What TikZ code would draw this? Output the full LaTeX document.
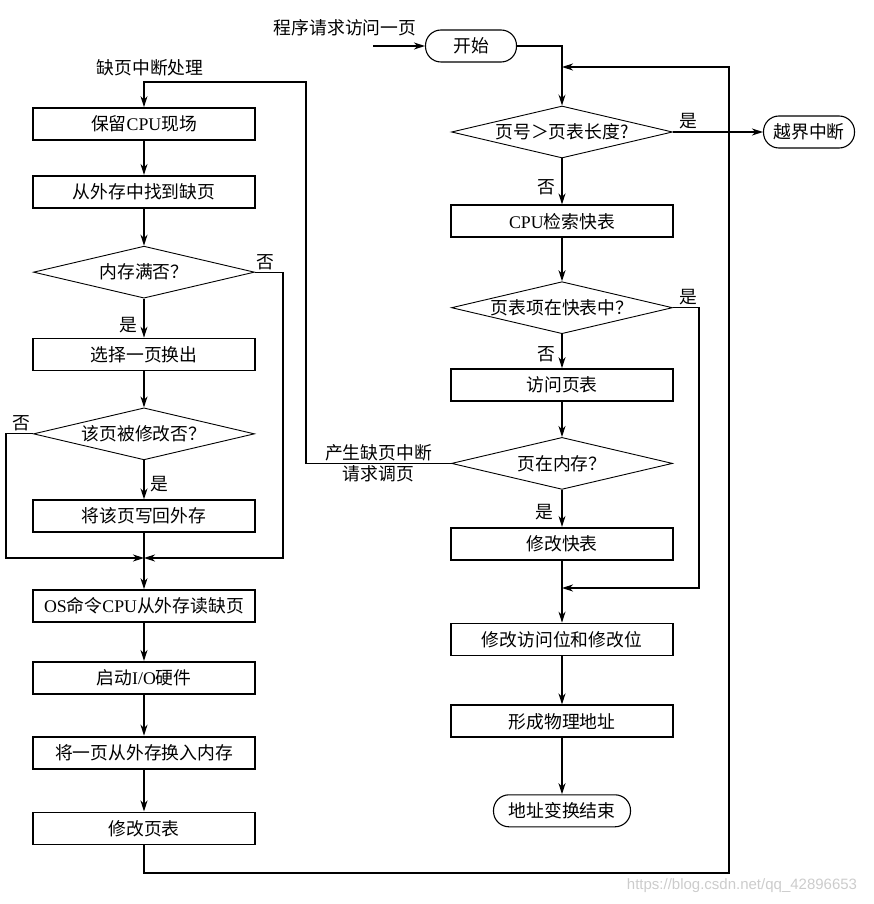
\documentclass[tikz,border=0pt]{standalone}
\usepackage{fontspec}
\setmainfont{Liberation Serif}
\newfontfamily\cjk{Noto Sans CJK SC}
\newfontfamily\wmfont{Liberation Sans}
\usetikzlibrary{positioning,shapes.geometric,arrows.meta}
\newcommand{\latn}[1]{{\rmfamily #1}}

\begin{document}
\begin{tikzpicture}[x=1pt, y=-1pt, font=\cjk\fontsize{17.8}{20}\selectfont,
    box/.style = {rectangle, draw, line width=1.8pt, minimum width=222pt, minimum height=32pt, inner sep=0pt},
    cond/.style = {diamond, draw, line width=0.9pt, minimum width=221pt, minimum height=52pt, inner sep=0pt, aspect=4.25},
    term/.style = {rectangle, draw, rounded corners=15.5pt, line width=1.1pt, minimum height=32pt, inner sep=0pt},
    arr/.style = {line width=1.2pt, -{Stealth[length=11pt,width=7pt,inset=3.5pt]}},
    lbl/.style = {inner sep=2pt}]
    \useasboundingbox (0,0) rectangle (874,904);

    % left column: page fault handling
    \node[box] (l1) at (144,124) {保留\latn{CPU}现场};
    \node[box] (l2) [below=34pt of l1] {从外存中找到缺页};
    \node[cond] (l3) [below=37pt of l2] {内存满否？};
    \node[box] (l4) [below=39pt of l3] {选择一页换出};
    \node[cond] (l5) [below=36pt of l4] {该页被修改否？};
    \node[box] (l6) [below=39pt of l5] {将该页写回外存};
    \node[box] (l7) [below=56pt of l6] {\latn{OS}命令\latn{CPU}从外存读缺页};
    \node[box] (l8) [below=38pt of l7] {启动\latn{I/O}硬件};
    \node[box] (l9) [below=41pt of l8] {将一页从外存换入内存};
    \node[box] (l10) [below=42pt of l9] {修改页表};
    \node (hd) at (150,68) {缺页中断处理};

    % right column: address translation
    \node (in) at (345,28) {程序请求访问一页};
    \node[term, minimum width=91pt] (s) at (471,46) {开始};
    \node[cond] (r1) at (562,132) {页号＞页表长度?};
    \node[term, minimum width=91pt] (o) at (809,132) {越界中断};
    \node[box] (r2) [below=46pt of r1] {\latn{CPU}检索快表};
    \node[cond] (r3) [below=43pt of r2] {页表项在快表中？};
    \node[box] (r4) [below=34pt of r3] {访问页表};
    \node[cond] (r5) [below=35pt of r4] {页在内存？};
    \node[box] (r6) [below=37pt of r5] {修改快表};
    \node[box] (r7) [below=62pt of r6] {修改访问位和修改位};
    \node[box] (r8) [below=48pt of r7] {形成物理地址};
    \node[term, minimum width=137pt] (e) [below=56pt of r8] {地址变换结束};

    \coordinate (src) at (373,46);
    \coordinate (ml) at (144,558);
    \coordinate (mr) at (562,588);
    \coordinate (pt) at (306,82);
    \coordinate (rb) at (729,873);
    \coordinate (rt) at (729,67);

    \draw[arr] (src) -- (s);
    \draw[arr] (s.east) -| (r1.north);
    \path[arr] (r1) edge node[lbl, above, pos=0.17] {是} (o);
    \path[arr] (r1) edge node[lbl, left=4pt, pos=0.62] {否} (r2);
    \path[arr] (r2) edge (r3);
    \draw[arr] (r3.east) -- node[lbl, above, pos=0.6] {是} ++(26,0) |- (mr);
    \path[arr] (r3) edge node[lbl, left=4pt, pos=0.6] {否} (r4);
    \path[arr] (r4) edge (r5);
    \path[arr] (r5) edge node[lbl, left=6pt, pos=0.6] {是} (r6);
    \path[arr] (r6) edge (r7);
    \path[arr] (r7) edge (r8);
    \path[arr] (r8) edge (e);

    \draw[arr] (r5.west) -- node[lbl, above] {产生缺页中断} node[lbl, below] {请求调页} (pt |- r5.west) -- (pt) -| (l1.north);

    \path[arr] (l1) edge (l2);
    \path[arr] (l2) edge (l3);
    \path[arr] (l3) edge node[lbl, left=4pt, pos=0.68] {是} (l4);
    \draw[arr] (l3.east) -- node[lbl, above, pos=0.36] {否} ++(28,0) |- (ml);
    \path[arr] (l4) edge (l5);
    \path[arr] (l5) edge node[lbl, right=4pt, pos=0.62] {是} (l6);
    \draw[arr] (l5.west) -- node[lbl, above, pos=0.44] {否} ++(-27,0) |- (ml);
    \path[arr] (l6) edge (l7);
    \path[arr] (l7) edge (l8);
    \path[arr] (l8) edge (l9);
    \path[arr] (l9) edge (l10);
    \draw[arr] (l10.south) |- (rb) -- (rt) -- (rt -| r1);

    \node[font=\wmfont\fontsize{15}{17}\selectfont, text=gray!40] (wm) at (742,886) {https://blog.csdn.net/qq\_42896653};
\end{tikzpicture}
\end{document}
